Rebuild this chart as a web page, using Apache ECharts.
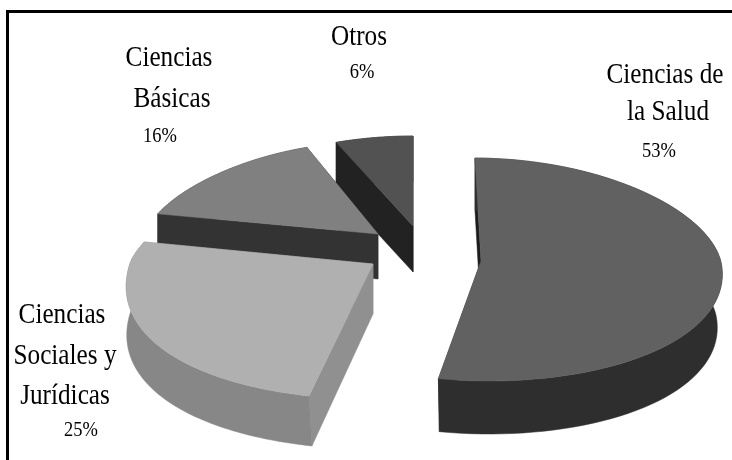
<!DOCTYPE html>
<html>
<head>
<meta charset="utf-8">
<style>
  html, body { margin: 0; padding: 0; background: #fff; }
  #chart { width: 732px; height: 460px; }
</style>
<script src="https://cdn.jsdelivr.net/npm/echarts@6/dist/echarts.min.js"></script>
</head>
<body>
<div id="chart"></div>
<script>
  // data
  const categories = ['Ciencias de la Salud', 'Ciencias Sociales y Jurídicas', 'Ciencias Básicas', 'Otros'];
  const shares = [53, 25, 16, 6];

  // wrapped label text, same order as categories
  const labelLines = [
    ['Ciencias de', 'la Salud'],
    ['Ciencias', 'Sociales y', 'Jurídicas'],
    ['Ciencias', 'Básicas'],
    ['Otros']
  ];

  // where each label line sits (last entry is the percentage)
  const labelPos = [
    [[665, 75], [668, 112], [659, 151]],
    [[62, 315], [65, 356], [65, 396], [81, 430]],
    [[169, 58], [172, 99], [160, 136]],
    [[359, 37], [362, 72]]
  ];

  // the 3d look: exploded slice origin and a rough perspective per slice
  const sliceView = [
    {ax: 481, ay: 261, rx: 240, k: 0.08, shear: 6, ryBack: 103, ryFront: 120, tilt: 1, depth: 53, leanU: -5, leanV: 0},
    {ax: 373, ay: 264, rx: 242, k: 0.154, shear: -12, ryBack: 100, ryFront: 135, tilt: 3.4, depth: 50, leanU: 0, leanV: 3},
    {ax: 378, ay: 234, rx: 232, k: 0.18, shear: 0, ryBack: 92, ryFront: 100, tilt: 3, depth: 45, leanU: 0, leanV: 0},
    {ax: 413, ay: 226, rx: 235, k: 0.12, shear: 0, ryBack: 90, ryFront: 90, tilt: 0, depth: 46, leanU: 0, leanV: 0}
  ];
  const sliceColors = [
    {top: '#616161', rim: '#2e2e2e', cutA: '#1c1c1c', cutB: '#2e2e2e'},
    {top: '#b0b0b0', rim: '#878787', cutA: '#909090', cutB: '#909090'},
    {top: '#808080', rim: '#333333', cutA: '#333333', cutB: '#333333'},
    {top: '#525252', rim: '#222222', cutA: '#222222', cutB: '#222222'}
  ];

  const total = shares.reduce((a, b) => a + b, 0);

  function project(view, angle) {
    const u = Math.sin(angle);
    const v = -Math.cos(angle);
    return [
      view.ax + view.rx * u * (1 + view.k * v) + view.shear * v,
      view.ay + (v < 0 ? view.ryBack : view.ryFront) * v + view.tilt * u
    ];
  }

  // same point on the underside of the slice
  function below(view, angle) {
    const p = project(view, angle);
    const lean = view.leanU * Math.sin(angle) - view.leanV * Math.cos(angle);
    return [p[0] + lean, p[1] + view.depth];
  }

  function renderSlice(params, api) {
    const i = api.value(0);
    let from = 0;
    for (let j = 0; j < i; j++) from += shares[j];
    const start = from / total * Math.PI * 2;
    const end = (from + api.value(1)) / total * Math.PI * 2;
    const view = sliceView[i];
    const color = sliceColors[i];
    const apex = [view.ax, view.ay];
    const apexLow = [view.ax, view.ay + view.depth];

    const arc = [];
    const arcLow = [];
    const steps = 80;
    for (let s = 0; s <= steps; s++) {
      const a = start + (end - start) * s / steps;
      arc.push(project(view, a));
      arcLow.push(below(view, a));
    }
    const poly = (points, fill) => ({
      type: 'polygon',
      shape: {points: points},
      style: {fill: fill, stroke: fill, lineWidth: 0.5}
    });

    return {
      type: 'group',
      children: [
        poly([arc[0], apex, apexLow, arcLow[0]], color.cutA),
        poly([arc[steps], apex, apexLow, arcLow[steps]], color.cutB),
        poly(arc.concat(arcLow.slice().reverse()), color.rim),
        poly([apex].concat(arc), color.top)
      ]
    };
  }

  function labelText(text, pos, size, squeeze) {
    return {
      type: 'text',
      x: pos[0],
      y: pos[1],
      scaleX: squeeze,
      style: {
        text: text,
        fill: '#000',
        font: size + 'px "Liberation Serif"',
        textAlign: 'center',
        textVerticalAlign: 'middle'
      }
    };
  }

  const labelGraphics = [];
  categories.forEach((name, i) => {
    const lines = labelLines[i];
    lines.forEach((line, n) => {
      labelGraphics.push(labelText(line, labelPos[i][n], 29, 0.87));
    });
    labelGraphics.push(labelText(shares[i] + '%', labelPos[i][lines.length], 22, 0.84));
  });

  // only the top and left edges of the frame are in the picture
  const frame = [
    {type: 'rect', shape: {x: 6, y: 10, width: 726, height: 3}, style: {fill: '#000'}},
    {type: 'rect', shape: {x: 6, y: 10, width: 3, height: 450}, style: {fill: '#000'}}
  ];

  const chart = echarts.init(document.getElementById('chart'));
  chart.setOption({
    animation: false,
    backgroundColor: '#fff',
    graphic: frame.concat(labelGraphics),
    series: [{
      type: 'custom',
      coordinateSystem: 'none',
      renderItem: renderSlice,
      // back slices first so the front ones cover them
      data: [3, 2, 1, 0].map(i => ({name: categories[i], value: [i, shares[i]]})),
      silent: true
    }]
  });
</script>
</body>
</html>
